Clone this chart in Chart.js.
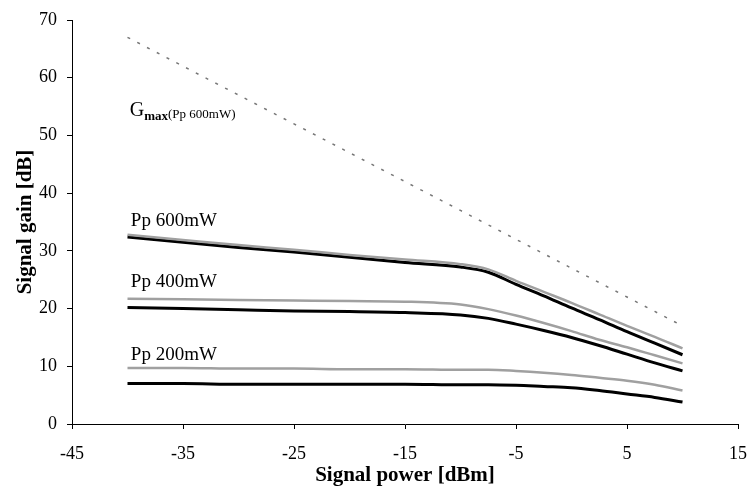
<!DOCTYPE html>
<html>
<head>
<meta charset="utf-8">
<script src="https://cdn.jsdelivr.net/npm/chart.js@4.4.1/dist/chart.umd.min.js"></script>
<style>
  html, body { margin: 0; padding: 0; background: #fff; }
  #wrap { width: 749px; height: 488px; }
</style>
</head>
<body>
<div id="wrap"><canvas id="gain"></canvas></div>
<script>
// signal power in dBm
const powerDbm = [-40, -35, -30, -25, -20, -15, -10, -7.5, -5, -2.5, 0, 2.5, 5, 7.5, 10];

// maximum gain at 600 mW pump
const gmax600 = [67, 62, 57, 52, 47, 42, 37, 34.5, 32, 29.5, 27, 24.5, 22, 19.5, 17];

// signal gain [dB], upper (grey) and lower (black) curve per pump power
const pp600Upper = [32.8, 31.9, 31.0, 30.2, 29.3, 28.5, 27.7, 26.8, 24.8, 22.9, 21.0, 19.0, 17.0, 15.1, 13.1];
const pp600Lower = [32.4, 31.5, 30.6, 29.8, 28.9, 28.0, 27.2, 26.3, 24.2, 22.2, 20.1, 18.1, 16.0, 14.0, 12.0];
const pp400Upper = [21.7, 21.6, 21.5, 21.4, 21.3, 21.2, 20.7, 19.9, 18.8, 17.5, 16.1, 14.6, 13.3, 11.9, 10.5];
const pp400Lower = [20.2, 20.0, 19.8, 19.6, 19.5, 19.3, 18.9, 18.3, 17.3, 16.2, 15.0, 13.6, 12.1, 10.6, 9.2];
const pp200Upper = [9.7, 9.7, 9.6, 9.6, 9.5, 9.5, 9.4, 9.4, 9.2, 8.9, 8.5, 8.0, 7.5, 6.8, 5.8];
const pp200Lower = [7.0, 7.0, 6.9, 6.9, 6.9, 6.9, 6.8, 6.8, 6.7, 6.5, 6.3, 5.8, 5.2, 4.6, 3.8];

const xTicks = [-45, -35, -25, -15, -5, 5, 15];
const curveLabels = [
  { text: 'Pp 600mW', x: -39.7, y: 34.3 },
  { text: 'Pp 400mW', x: -39.7, y: 23.8 },
  { text: 'Pp 200mW', x: -39.7, y: 11.1 }
];

const serif = '"Liberation Serif", "Times New Roman", serif';
const toPoints = ys => powerDbm.map((x, i) => ({ x: x, y: ys[i] }));

function curve(ys, color, width, dash) {
  return {
    data: toPoints(ys),
    borderColor: color,
    borderWidth: width,
    borderDash: dash || [],
    pointRadius: 0,
    cubicInterpolationMode: 'monotone',
    fill: false
  };
}

// curve names, G_max label and axis titles
const textPlugin = {
  id: 'gainText',
  afterDatasetsDraw(chart) {
    const { ctx, scales: { x, y }, chartArea } = chart;
    ctx.save();
    ctx.fillStyle = '#000';
    ctx.textBaseline = 'alphabetic';
    ctx.textAlign = 'left';

    ctx.font = '19px ' + serif;
    curveLabels.forEach(l => {
      ctx.fillText(l.text, x.getPixelForValue(l.x), y.getPixelForValue(l.y));
    });

    // G with subscript "max(Pp 600mW)"
    let gx = x.getPixelForValue(-39.8);
    const gy = y.getPixelForValue(53.4);
    ctx.font = '20px ' + serif;
    ctx.fillText('G', gx, gy);
    gx += ctx.measureText('G').width;
    ctx.font = 'bold 13px ' + serif;
    ctx.fillText('max', gx, gy + 4);
    gx += ctx.measureText('max').width;
    ctx.font = '13px ' + serif;
    ctx.fillText('(Pp 600mW)', gx, gy + 2);

    // axis titles
    ctx.font = 'bold 21px ' + serif;
    ctx.textAlign = 'center';
    ctx.fillText('Signal power [dBm]', (chartArea.left + chartArea.right) / 2, 481);
    ctx.translate(31, (chartArea.top + chartArea.bottom) / 2);
    ctx.rotate(-Math.PI / 2);
    ctx.fillText('Signal gain [dB]', 0, 0);
    ctx.restore();
  }
};

new Chart('gain', {
  type: 'line',
  data: {
    datasets: [
      curve(gmax600, '#777', 1.5, [3, 8]),
      curve(pp600Upper, '#a0a0a0', 2.5),
      curve(pp600Lower, '#000', 3),
      curve(pp400Upper, '#a0a0a0', 2.5),
      curve(pp400Lower, '#000', 3),
      curve(pp200Upper, '#a0a0a0', 2.5),
      curve(pp200Lower, '#000', 3)
    ]
  },
  options: {
    responsive: true,
    maintainAspectRatio: false,
    animation: false,
    layout: { padding: { top: 20, right: 11, left: 0, bottom: 0 } },
    plugins: {
      legend: { display: false },
      tooltip: { enabled: false }
    },
    scales: {
      x: {
        type: 'linear',
        min: -45,
        max: 15,
        afterBuildTicks: s => { s.ticks = xTicks.map(v => ({ value: v })); },
        afterFit: s => { s.height = 64; s.paddingLeft = 0; s.paddingRight = 0; },
        border: { display: true, color: '#000', width: 1 },
        grid: { drawOnChartArea: false, drawTicks: true, tickLength: 5, color: '#000' },
        ticks: { color: '#000', padding: 14, maxRotation: 0, font: { family: serif, size: 18 } }
      },
      y: {
        min: 0,
        max: 70,
        afterFit: s => { s.width = 72; s.paddingTop = 0; s.paddingBottom = 0; },
        border: { display: true, color: '#000', width: 1 },
        grid: { drawOnChartArea: false, drawTicks: true, tickLength: 5, color: '#000' },
        ticks: { stepSize: 10, color: '#000', padding: 10, font: { family: serif, size: 18 } }
      }
    }
  },
  plugins: [textPlugin]
});
</script>
</body>
</html>
